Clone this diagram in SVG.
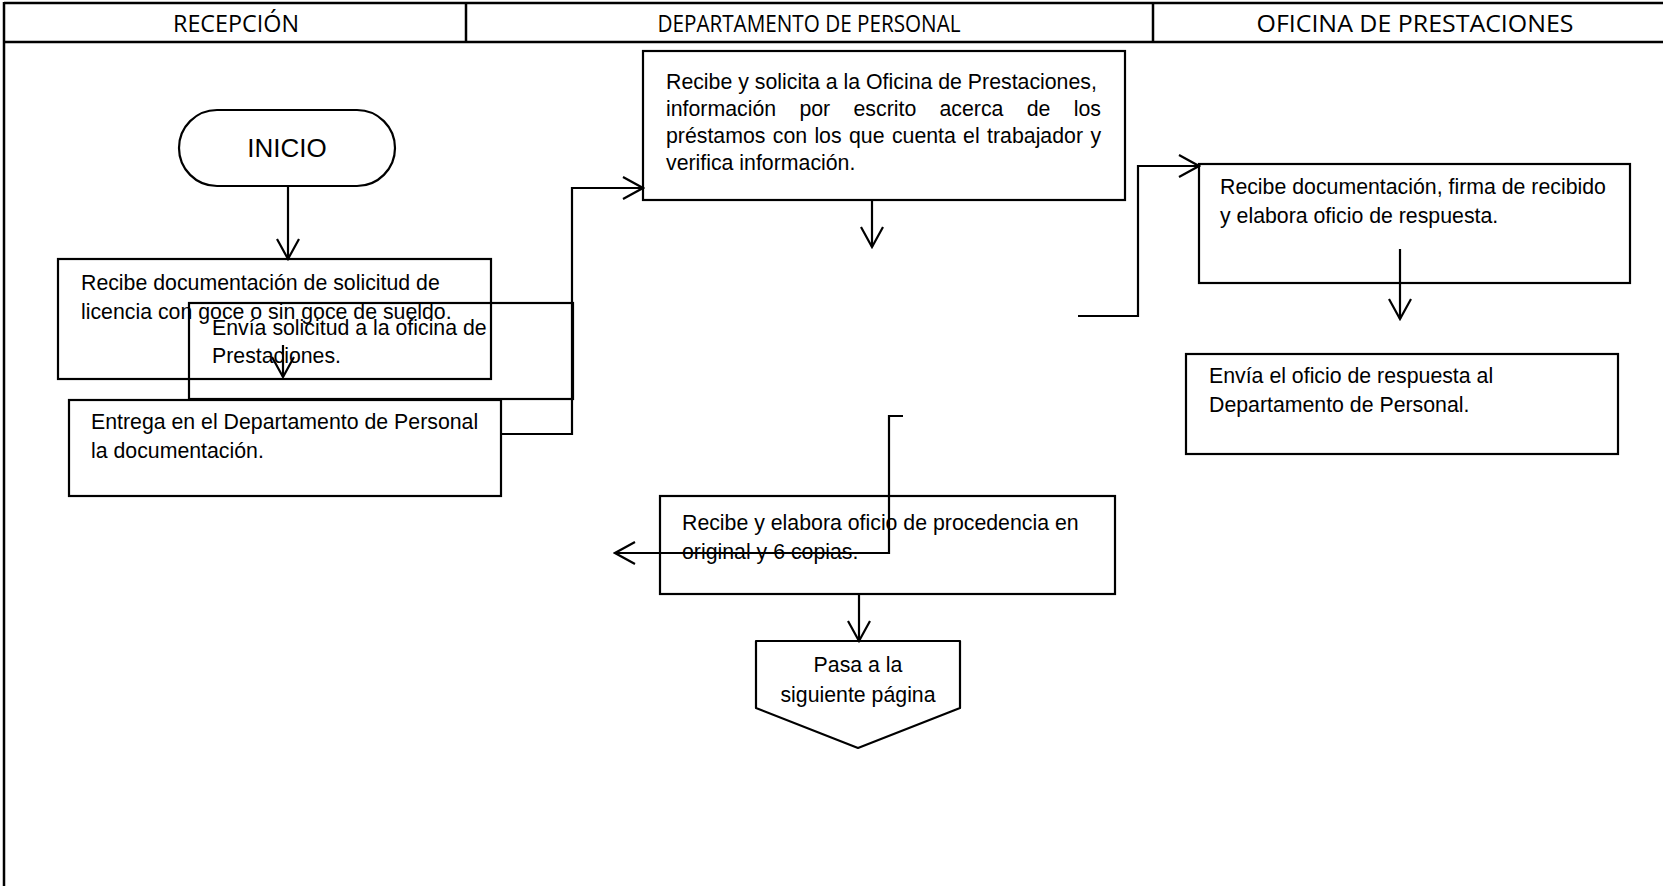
<svg xmlns="http://www.w3.org/2000/svg" width="1663" height="886" viewBox="0 0 1663 886">
  <style>
    .grid { stroke: #000; stroke-width: 2.5; fill: none; }
    .box { stroke: #000; stroke-width: 2.2; fill: none; }
    .conn { stroke: #000; stroke-width: 2.2; fill: none; marker-end: url(#arrow); }
    .head { font-family: "Open Sans", "Noto Sans", sans-serif; font-size: 24px; fill: #000; text-anchor: middle; }
    .txt { font-family: "Liberation Sans", Arial, sans-serif; font-size: 21.3px; fill: #000; }
    .mid { text-anchor: middle; }
  </style>
  <defs>
    <marker id="arrow" markerUnits="userSpaceOnUse" markerWidth="24" markerHeight="26" viewBox="0 0 24 26" refX="22" refY="13" orient="auto">
      <path d="M2,2 L22,13 L2,24" fill="none" stroke="#000" stroke-width="2.2"/>
    </marker>
  </defs>

  <rect width="1663" height="886" fill="#fff"/>

  <!-- swimlane table header -->
  <g id="lanes">
    <line class="grid" x1="4" y1="3" x2="1663" y2="3"/>
    <line class="grid" x1="4" y1="42" x2="1663" y2="42"/>
    <line class="grid" x1="4" y1="2" x2="4" y2="886"/>
    <line class="grid" x1="466" y1="3" x2="466" y2="42"/>
    <line class="grid" x1="1153" y1="3" x2="1153" y2="42"/>
    <text class="head" x="236" y="32" textLength="126" lengthAdjust="spacingAndGlyphs">RECEPCIÓN</text>
    <text class="head" x="809" y="32" textLength="303" lengthAdjust="spacingAndGlyphs">DEPARTAMENTO DE PERSONAL</text>
    <text class="head" x="1415" y="32" textLength="317" lengthAdjust="spacingAndGlyphs">OFICINA DE PRESTACIONES</text>
  </g>

  <g id="inicio">
    <rect class="box" x="179" y="110" width="216" height="76" rx="38" ry="38"/>
    <text class="txt mid" x="287" y="157" style="font-size:26px">INICIO</text>
  </g>

  <g id="recibe-documentacion">
    <rect class="box" x="58" y="259" width="433" height="120"/>
    <text class="txt" x="81" y="290">Recibe documentación de solicitud de</text>
    <text class="txt" x="81" y="319">licencia con goce o sin goce de sueldo.</text>
  </g>

  <g id="envia-solicitud">
    <rect class="box" x="189" y="303" width="384" height="96"/>
    <text class="txt" x="212" y="335">Envía solicitud a la oficina de</text>
    <text class="txt" x="212" y="363">Prestaciones.</text>
  </g>

  <g id="entrega">
    <rect class="box" x="69" y="400" width="432" height="96"/>
    <text class="txt" x="91" y="429">Entrega en el Departamento de Personal</text>
    <text class="txt" x="91" y="458">la documentación.</text>
  </g>

  <g id="solicita-informacion">
    <rect class="box" x="643" y="51" width="482" height="149"/>
    <text class="txt" x="666" y="89">Recibe y solicita a la Oficina de Prestaciones,</text>
    <text class="txt" y="116"><tspan x="666">información</tspan><tspan x="799.4">por</tspan><tspan x="853.5">escrito</tspan><tspan x="939.5">acerca</tspan><tspan x="1026.7">de</tspan><tspan x="1073.7">los</tspan></text>
    <text class="txt" y="143"><tspan x="666">préstamos</tspan><tspan x="772.8">con</tspan><tspan x="814.4">los</tspan><tspan x="849">que</tspan><tspan x="891.9">cuenta</tspan><tspan x="963.1">el</tspan><tspan x="987.1">trabajador</tspan><tspan x="1090.4">y</tspan></text>
    <text class="txt" x="666" y="170">verifica información.</text>
  </g>

  <g id="recibe-firma">
    <rect class="box" x="1199" y="164" width="431" height="119"/>
    <text class="txt" x="1220" y="194">Recibe documentación, firma de recibido</text>
    <text class="txt" x="1220" y="223">y elabora oficio de respuesta.</text>
  </g>

  <g id="envia-oficio">
    <rect class="box" x="1186" y="354" width="432" height="100"/>
    <text class="txt" x="1209" y="383">Envía el oficio de respuesta al</text>
    <text class="txt" x="1209" y="412">Departamento de Personal.</text>
  </g>

  <g id="elabora-procedencia">
    <rect class="box" x="660" y="496" width="455" height="98"/>
    <text class="txt" x="682" y="530">Recibe y elabora oficio de procedencia en</text>
    <text class="txt" x="682" y="559">original y 6 copias.</text>
  </g>

  <g id="siguiente-pagina">
    <path class="box" d="M756,641 H960 V708 L858,748 L756,708 Z" stroke-linejoin="round"/>
    <text class="txt mid" x="858" y="672">Pasa a la</text>
    <text class="txt mid" x="858" y="702">siguiente página</text>
  </g>

  <g id="connectors">
    <path class="conn" d="M288,186 V259"/>
    <path class="conn" d="M283,345 V377"/>
    <path class="conn" d="M501,434 H572 V188 H643"/>
    <path class="conn" d="M872,200 V247"/>
    <path class="conn" d="M1078,316 H1138 V166 H1199"/>
    <path class="conn" d="M1400,249 V319"/>
    <path class="conn" d="M903,416 H889 V553 H615"/>
    <path class="conn" d="M859,594 V641"/>
  </g>
</svg>
